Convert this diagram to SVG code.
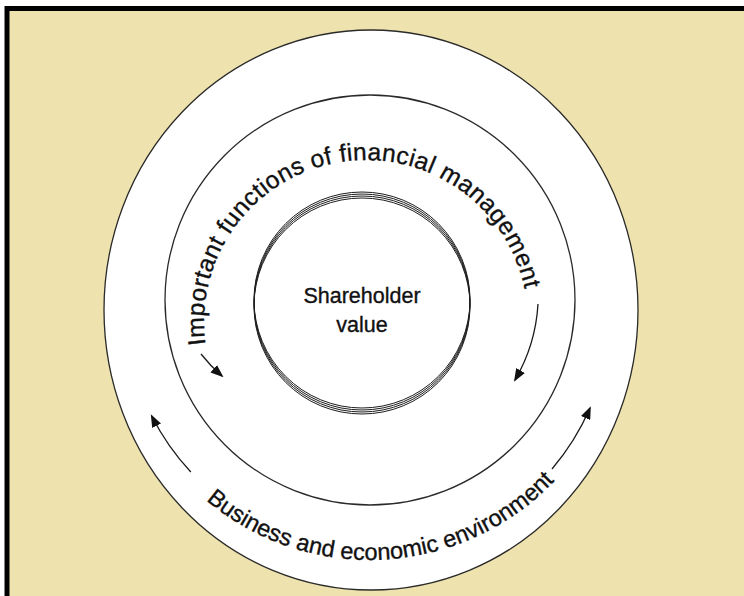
<svg xmlns="http://www.w3.org/2000/svg" width="744" height="596" viewBox="0 0 744 596">
  <defs>
    <style>
      .ring { fill: #ffffff; stroke: #2a2a2a; stroke-width: 1.3; }
      .core { fill: none; stroke: #1e1e1e; stroke-width: 1; }
      .lbl { font-family: "Liberation Sans", Arial, sans-serif; fill: #111; stroke: #111; stroke-width: 0.35; }
      .arr { fill: none; stroke: #1a1a1a; stroke-width: 1.3; marker-end: url(#ah); }
    </style>
    <marker id="ah" viewBox="0 0 13 10" refX="11" refY="5" markerWidth="13" markerHeight="10" markerUnits="userSpaceOnUse" orient="auto">
      <path d="M0,0 L13,5 L0,10 Z" fill="#111"/>
    </marker>
    <path id="innerPath" d="M 205.6 344.5 A 162 162 0 1 1 524.5 355.7"/>
    <path id="outerPath" d="M 206.1 500.3 A 255 255 0 0 0 553.4 482.1"/>
  </defs>

  <rect x="0" y="0" width="744" height="596" fill="#ffffff"/>
  <rect id="frame" x="7" y="8.5" width="800" height="700" fill="#EEE2AE" stroke="#000" stroke-width="5"/>

  <g id="outer-ring">
    <ellipse class="ring" cx="371" cy="310" rx="267" ry="280"/>
  </g>
  <g id="middle-ring">
    <circle class="ring" cx="370" cy="300" r="205"/>
  </g>
  <g id="shareholder-value">
    <circle cx="362" cy="303" r="110" fill="#fff" stroke="none"/>
    <circle class="core" cx="362" cy="300" r="108"/>
    <circle class="core" cx="362" cy="302" r="108"/>
    <circle class="core" cx="362" cy="304" r="108"/>
    <circle class="core" cx="362" cy="306" r="108"/>
    <text class="lbl" font-size="21.5" text-anchor="middle"><tspan x="362" y="303">Shareholder</tspan><tspan x="362" y="332">value</tspan></text>
  </g>

  <g id="financial-management-label">
    <text class="lbl" font-size="24.5"><textPath href="#innerPath" textLength="498" lengthAdjust="spacing">Important functions of financial management</textPath></text>
  </g>
  <g id="environment-label">
    <text class="lbl" font-size="23.5"><textPath href="#outerPath">Business and economic environment</textPath></text>
  </g>

  <g id="connectors">
    <path class="arr" d="M 201 354 A 160 160 0 0 0 222 376"/>
    <path class="arr" d="M 538 304 A 170 170 0 0 1 515 380"/>
    <path class="arr" d="M 190.8 472 A 245 245 0 0 1 151.7 416"/>
    <path class="arr" d="M 552 469 A 245 245 0 0 0 590 408"/>
  </g>
</svg>
